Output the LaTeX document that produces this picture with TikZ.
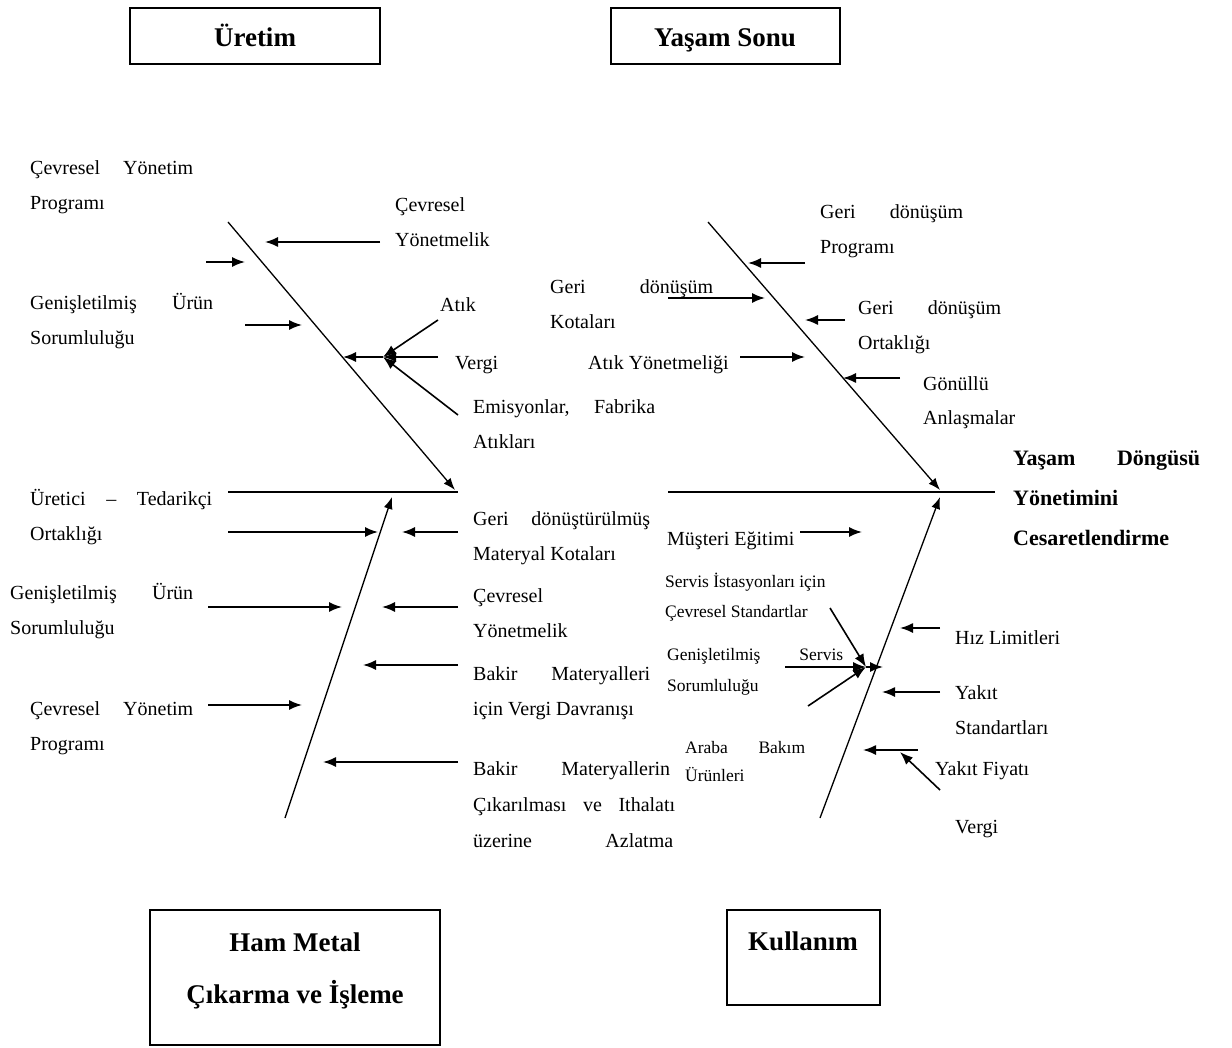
\documentclass[tikz,border=0pt]{standalone}
\usepackage{fontspec}
\setmainfont{Liberation Serif}
\usetikzlibrary{arrows.meta}
% a line stretched to a fixed width, words spread apart
\newcommand\jline[2]{\makebox[#1pt][s]{#2}}
\begin{document}
\begin{tikzpicture}[x=1pt,y=-1pt,
  bone/.style={line width=1.3pt,-{Latex[length=12pt,width=9pt]}},
  spine/.style={line width=1.3pt},
  arr/.style={line width=1.6pt,-{Latex[length=13pt,width=10pt]}},
  % multi-line labels are placed by the baseline of their LAST line
  lbl/.style={font=\fontsize{20}{35}\selectfont,inner sep=0pt,align=left,anchor=base west},
  slbl/.style={font=\fontsize{17.5}{30}\selectfont,inner sep=0pt,align=left,anchor=base west},
  ttl/.style={font=\bfseries\fontsize{22}{40}\selectfont,inner sep=0pt,align=left,anchor=base west},
  frame/.style={draw,line width=1.3pt,inner sep=0pt},
  boxtxt/.style={font=\bfseries\fontsize{27}{52}\selectfont,align=center,inner sep=0pt}]
\useasboundingbox (0,0) rectangle (1232,1048);

% category boxes
\node[frame,minimum width=250pt,minimum height=56pt] (uretim) at (255,36) {};
\node[boxtxt,anchor=base] (uretimT) at (255,47) {Üretim};
\node[frame,minimum width=229pt,minimum height=56pt] (sonu) at (725.5,36) {};
\node[boxtxt,anchor=base] (sonuT) at (725,47) {Yaşam Sonu};
\node[frame,minimum width=290pt,minimum height=135pt] (ham) at (295,977.5) {};
\node[boxtxt] (hamT) at (295,971) {Ham Metal\\Çıkarma ve İşleme};
\node[frame,minimum width=153pt,minimum height=95pt] (kul) at (803.5,957.5) {};
\node[boxtxt] (kulT) at (803,941) {Kullanım};

% spine
\coordinate (sp1) at (228,492); \coordinate (sp2) at (458,492);
\coordinate (sp3) at (668,492); \coordinate (sp4) at (995,492);
\draw[spine] (sp1) -- (sp2);
\draw[spine] (sp3) -- (sp4);

% main bones
\coordinate (ulT) at (228,222); \coordinate (ulE) at (455,490);
\coordinate (llB) at (285,818); \coordinate (llE) at (392,497);
\coordinate (urT) at (708,222); \coordinate (urE) at (940,490);
\coordinate (lrB) at (820,818); \coordinate (lrE) at (940,497);
\draw[bone] (ulT) -- (ulE);
\draw[bone] (llB) -- (llE);
\draw[bone] (urT) -- (urE);
\draw[bone] (lrB) -- (lrE);

% effect
\node[ttl] (effect) at (1013,545) {\jline{187}{Yaşam Döngüsü}\\Yönetimini\\Cesaretlendirme};

% ---- production
\node[lbl] (u1) at (30,210) {\jline{163}{Çevresel Yönetim}\\Programı};
\node[lbl] (u2) at (395,247) {Çevresel\\Yönetmelik};
\node[lbl] (u3) at (30,345) {\jline{183}{Genişletilmiş Ürün}\\Sorumluluğu};
\node[lbl] (u4) at (440,312) {Atık};
\node[lbl] (u5) at (455,370) {Vergi};
\node[lbl] (u6) at (473,449) {\jline{182}{Emisyonlar, Fabrika}\\Atıkları};
\coordinate (a1s) at (380,242); \coordinate (a1e) at (265,242);
\coordinate (a2s) at (206,262); \coordinate (a2e) at (245,262);
\coordinate (a3s) at (245,325); \coordinate (a3e) at (302,325);
\coordinate (a4s) at (438,320); \coordinate (a5s) at (438,357);
\coordinate (a6s) at (458,415); \coordinate (hub1) at (383,357);
\coordinate (a7e) at (343,357);
\draw[arr] (a1s) -- (a1e);
\draw[arr] (a2s) -- (a2e);
\draw[arr] (a3s) -- (a3e);
\draw[arr] (a4s) -- (hub1);
\draw[arr] (a5s) -- (hub1);
\draw[arr] (a6s) -- (hub1);
\draw[arr] (hub1) -- (a7e);

% ---- end of life
\node[lbl] (s1) at (820,254) {\jline{143}{Geri dönüşüm}\\Programı};
\node[lbl] (s2) at (550,329) {\jline{163}{Geri dönüşüm}\\Kotaları};
\node[lbl] (s3) at (858,350) {\jline{143}{Geri dönüşüm}\\Ortaklığı};
\node[lbl] (s4) at (588,370) {Atık Yönetmeliği};
\node[lbl] (s5) at (923,425) {Gönüllü\\Anlaşmalar};
\coordinate (b1s) at (805,263); \coordinate (b1e) at (748,263);
\coordinate (b2s) at (668,298); \coordinate (b2e) at (765,298);
\coordinate (b3s) at (845,320); \coordinate (b3e) at (805,320);
\coordinate (b4s) at (740,357); \coordinate (b4e) at (805,357);
\coordinate (b5s) at (900,378); \coordinate (b5e) at (843,378);
\draw[arr] (b1s) -- (b1e);
\draw[arr] (b2s) -- (b2e);
\draw[arr] (b3s) -- (b3e);
\draw[arr] (b4s) -- (b4e);
\draw[arr] (b5s) -- (b5e);

% ---- raw metal
\node[lbl] (h1) at (30,540) {\jline{182}{Üretici \,–\, Tedarikçi}\\Ortaklığı};
\node[lbl] (h2) at (473,560) {\jline{177}{Geri dönüştürülmüş}\\Materyal Kotaları};
\node[lbl] (h3) at (10,634) {\jline{183}{Genişletilmiş Ürün}\\Sorumluluğu};
\node[lbl] (h4) at (473,637) {Çevresel\\Yönetmelik};
\node[lbl] (h5) at (473,715) {\jline{177}{Bakir Materyalleri}\\için Vergi Davranışı};
\node[lbl] (h6) at (30,750) {\jline{163}{Çevresel Yönetim}\\Programı};
\node[lbl,font=\fontsize{20}{36}\selectfont] (h7) at (473,847)
  {\jline{197}{Bakir Materyallerin}\\\jline{202}{Çıkarılması ve Ithalatı}\\\jline{200}{üzerine Azlatma}};
\coordinate (c1s) at (228,532); \coordinate (c1e) at (378,532);
\coordinate (c2s) at (458,532); \coordinate (c2e) at (402,532);
\coordinate (c3s) at (208,607); \coordinate (c3e) at (342,607);
\coordinate (c4s) at (458,607); \coordinate (c4e) at (382,607);
\coordinate (c5s) at (458,665); \coordinate (c5e) at (363,665);
\coordinate (c6s) at (208,705); \coordinate (c6e) at (302,705);
\coordinate (c7s) at (458,762); \coordinate (c7e) at (323,762);
\draw[arr] (c1s) -- (c1e);
\draw[arr] (c2s) -- (c2e);
\draw[arr] (c3s) -- (c3e);
\draw[arr] (c4s) -- (c4e);
\draw[arr] (c5s) -- (c5e);
\draw[arr] (c6s) -- (c6e);
\draw[arr] (c7s) -- (c7e);

% ---- use
\node[lbl] (k1) at (667,545) {Müşteri Eğitimi};
\node[slbl] (k2) at (665,617) {Servis İstasyonları için\\Çevresel Standartlar};
\node[slbl,font=\fontsize{17.5}{31}\selectfont] (k3) at (667,691) {\jline{176}{Genişletilmiş Servis}\\Sorumluluğu};
\node[slbl,font=\fontsize{17.5}{28}\selectfont] (k4) at (685,781) {\jline{120}{Araba Bakım}\\Ürünleri};
\node[lbl] (k5) at (955,644) {Hız Limitleri};
\node[lbl] (k6) at (955,734) {Yakıt\\Standartları};
\node[lbl] (k7) at (935,775) {Yakıt Fiyatı};
\node[lbl] (k8) at (955,833) {Vergi};
\coordinate (d1s) at (800,532); \coordinate (d1e) at (862,532);
\coordinate (d2s) at (830,608); \coordinate (d3s) at (785,667);
\coordinate (d4s) at (808,706); \coordinate (hub2) at (866,667);
\coordinate (d5e) at (883,667);
\coordinate (d6s) at (940,628); \coordinate (d6e) at (900,628);
\coordinate (d7s) at (940,692); \coordinate (d7e) at (882,692);
\coordinate (d8s) at (918,750); \coordinate (d8e) at (863,750);
\coordinate (d9s) at (940,790); \coordinate (d9e) at (900,752);
\draw[arr] (d1s) -- (d1e);
\draw[arr] (d2s) -- (hub2);
\draw[arr] (d3s) -- (hub2);
\draw[arr] (d4s) -- (hub2);
\draw[arr] (hub2) -- (d5e);
\draw[arr] (d6s) -- (d6e);
\draw[arr] (d7s) -- (d7e);
\draw[arr] (d8s) -- (d8e);
\draw[arr] (d9s) -- (d9e);
\end{tikzpicture}
\end{document}
